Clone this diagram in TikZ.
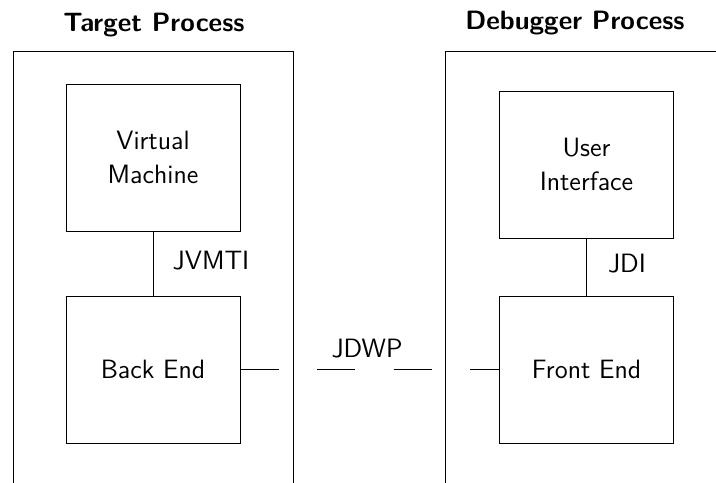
\documentclass[tikz,border=0pt]{standalone}
\usepackage{tikz}

\tikzset{
  part/.style={draw, minimum width=87pt, minimum height=73.5pt, align=center, inner sep=0pt},
  lbl/.style={anchor=base, inner sep=0pt},
  title/.style={lbl, font=\sffamily\bfseries\fontsize{13.25}{17}\selectfont},
}

\begin{document}
\begin{tikzpicture}[x=0.5pt, y=-0.5pt, line width=0.5pt, font=\sffamily\fontsize{13.25}{17}\selectfont]
\useasboundingbox (0,0) rectangle (716,482);
\clip (0,0) rectangle (716,482);
% process frames
\draw (13,51) rectangle (293,500);
\draw (445,51) rectangle (728,500);
\node [title] (tp) at (154,31) {Target Process};
\node [title] (dp) at (575,29) {Debugger Process};
% target side
\node [part] (vm) at (153,157.5) {Virtual\\Machine};
\node [part] (be) at (153,369.5) {Back End};
\draw (vm.south) -- (be.north);
\node [lbl] (jvmti) at (211,269) {JVMTI};
% debugger side
\node [part] (ui) at (586.5,164.5) {User\\Interface};
\node [part] (fe) at (586.5,369.5) {Front End};
\draw (ui.south) -- (fe.north);
\node [lbl] (jdi) at (627,272) {JDI};
% wire protocol
\draw [dash pattern=on 19pt off 19.25pt] (be.east) -- (fe.west);
\node [lbl] (jdwp) at (367,357) {JDWP};
\end{tikzpicture}
\end{document}
